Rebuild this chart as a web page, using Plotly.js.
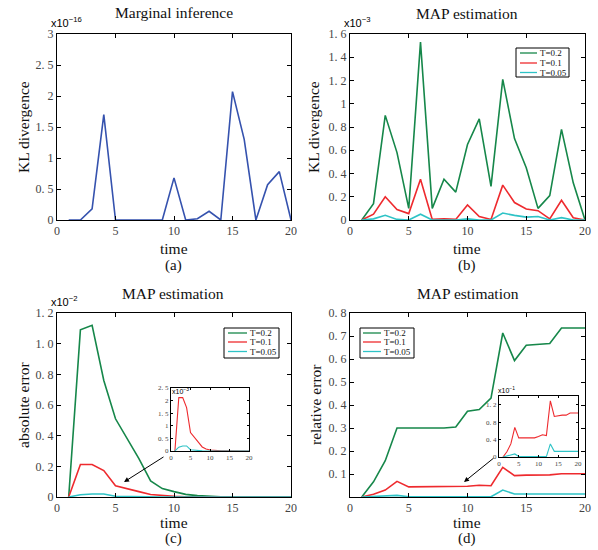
<!DOCTYPE html>
<html>
<head>
<meta charset="utf-8">
<script src="https://cdn.plot.ly/plotly-3.0.1.min.js"></script>
<style>html,body{margin:0;padding:0;background:#fff;}#chart{width:598px;height:550px;}</style>
</head>
<body>
<div id="chart"></div>
<script>
// ---------------- data ----------------
const time = [1,2,3,4,5,6,7,8,9,10,11,12,13,14,15,16,17,18,19,20];
const seriesNames = ['T=0.2','T=0.1','T=0.05'];

// (a) KL divergence, marginal inference (x1e-16)
const klMarginal = [0,0,0.18,1.7,0,0,0,0,0,0.68,0,0.02,0.14,0,2.07,1.3,0,0.57,0.78,0];

// (b) KL divergence, MAP estimation (x1e-3)
const klMapT02  = [0,0.14,0.9,0.58,0.1,1.53,0.1,0.35,0.24,0.65,0.87,0.29,1.21,0.7,0.45,0.1,0.21,0.78,0.32,0];
const klMapT01  = [0,0.05,0.2,0.09,0.055,0.35,0.005,0.01,0.005,0.13,0.03,0.005,0.3,0.15,0.095,0.08,0.01,0.17,0.02,0];
const klMapT005 = [0,0.01,0.04,0.005,0,0.05,0,0,0,0.01,0,0,0.06,0.04,0.025,0.03,0,0.02,0,0];

// (c) absolute error, MAP estimation (x1e-2)
const absErrT02  = [0,1.09,1.12,0.76,0.51,0.38,0.25,0.105,0.055,0.035,0.017,0.009,0.004,0.002,0.001,0.001,0.0005,0.0005,0.0003,0.0002];
const absErrT01  = [0,0.212,0.212,0.172,0.073,0.056,0.035,0.016,0.008,0.004,0.002,0.001,0.0005,0.0003,0.0002,0.0001,0.0001,0.0001,0.0001,0.0001];
const absErrT005 = [0,0.015,0.02,0.02,0.005,0.003,0.001,0.0005,0.0002,0.0001,0,0,0,0,0,0,0,0,0,0];

// (d) relative error, MAP estimation
const relErrT02  = [0,0.066,0.158,0.3,0.3,0.3,0.3,0.3,0.304,0.373,0.38,0.43,0.713,0.593,0.66,0.663,0.667,0.735,0.735,0.735];
const relErrT01  = [0,0.012,0.03,0.068,0.044,0.044,0.044,0.044,0.044,0.047,0.051,0.049,0.129,0.093,0.095,0.096,0.096,0.101,0.101,0.101];
const relErrT005 = [0,0.002,0.004,0.007,0.001,0.001,0.001,0.001,0.001,0.001,0.001,0.001,0.03,0.013,0.013,0.013,0.013,0.013,0.013,0.013];

// ticks
const xTickVals = [0,5,10,15,20];
const xTickText = ['0','5','10','15','20'];
const yTickValsA = [0,0.5,1,1.5,2,2.5,3];
const yTickTextA = ['0','0. 5','1','1. 5','2','2. 5','3'];
const yTickValsB = [0,0.2,0.4,0.6,0.8,1,1.2,1.4,1.6];
const yTickTextB = ['0','0. 2','0. 4','0. 6','0. 8','1','1. 2','1. 4','1. 6'];
const yTickValsC = [0,0.2,0.4,0.6,0.8,1.0,1.2];
const yTickTextC = ['0','0. 2','0. 4','0. 6','0. 8','1. 0','1. 2'];
const yTickValsD = [0.1,0.2,0.3,0.4,0.5,0.6,0.7,0.8];
const yTickTextD = ['0. 1','0. 2','0. 3','0. 4','0. 5','0. 6','0. 7','0. 8'];
const yTickValsInsetC = [0,0.05,0.1,0.15,0.2,0.25];
const yTickTextInsetC = ['0','0. 5','1','1. 5','2','2. 5'];
const yTickValsInsetD = [0,0.04,0.08,0.12];
const yTickTextInsetD = ['0','0. 4','0. 8','1. 2'];

// ---------------- styles ----------------
const colors = ['#16874a', '#ee2a2e', '#2ec3c6'];
const blue = '#3552ae';
const W = 598, H = 550;
const px = v => v / W;
const py = v => 1 - v / H;
const serif = 'Liberation Serif';

function line(x, y, color, xa, ya, width) {
  return {x: x, y: y, type: 'scatter', mode: 'lines', xaxis: xa, yaxis: ya,
          line: {color: color, width: width}, hoverinfo: 'skip', showlegend: false};
}

const traces = [
  line(time, klMarginal, blue, 'x', 'y', 1.6),
  line(time, klMapT02, colors[0], 'x2', 'y2', 1.6),
  line(time, klMapT01, colors[1], 'x2', 'y2', 1.6),
  line(time, klMapT005, colors[2], 'x2', 'y2', 1.6),
  line(time, absErrT02, colors[0], 'x3', 'y3', 1.6),
  line(time, absErrT01, colors[1], 'x3', 'y3', 1.6),
  line(time, absErrT005, colors[2], 'x3', 'y3', 1.6),
  line(time, relErrT02, colors[0], 'x4', 'y4', 1.6),
  line(time, relErrT01, colors[1], 'x4', 'y4', 1.6),
  line(time, relErrT005, colors[2], 'x4', 'y4', 1.6),
  line(time, absErrT01, colors[1], 'x5', 'y5', 1.1),
  line(time, absErrT005, colors[2], 'x5', 'y5', 1.1),
  line(time, relErrT01, colors[1], 'x6', 'y6', 1.1),
  line(time, relErrT005, colors[2], 'x6', 'y6', 1.1)
];

function axis(domain, anchor, range, tv, tt, fs, tl) {
  return {domain: domain, anchor: anchor, range: range, tickmode: 'array',
          tickvals: tv, ticktext: tt, ticks: 'inside', ticklen: tl, tickwidth: 1,
          tickcolor: '#000', showline: true, linecolor: '#000', linewidth: 1,
          mirror: 'ticks', showgrid: false, zeroline: false, fixedrange: true,
          tickfont: {family: serif, size: fs, color: '#444'}};
}

const colL = [px(57), px(291)], colR = [px(350), px(585)];
const rowT = [py(220), py(34)], rowB = [py(497), py(313)];

const layout = {
  width: W, height: H, autosize: false,
  margin: {l: 0, r: 0, t: 0, b: 0},
  paper_bgcolor: '#fff', plot_bgcolor: '#fff', showlegend: false,
  xaxis:  axis(colL, 'y', [0,20], xTickVals, xTickText, 12, 4),
  yaxis:  axis(rowT, 'x', [0,3], yTickValsA, yTickTextA, 12, 4),
  xaxis2: axis(colR, 'y2', [0,20], xTickVals, xTickText, 12, 4),
  yaxis2: axis(rowT, 'x2', [0,1.6], yTickValsB, yTickTextB, 12, 4),
  xaxis3: axis(colL, 'y3', [0,20], xTickVals, xTickText, 12, 4),
  yaxis3: axis(rowB, 'x3', [0,1.2], yTickValsC, yTickTextC, 12, 4),
  xaxis4: axis(colR, 'y4', [0,20], xTickVals, xTickText, 12, 4),
  yaxis4: axis(rowB, 'x4', [0,0.8], yTickValsD, yTickTextD, 12, 4),
  xaxis5: axis([px(171), px(249)], 'y5', [0,20], xTickVals, xTickText, 7, 2),
  yaxis5: axis([py(451), py(388)], 'x5', [0,0.25], yTickValsInsetC, yTickTextInsetC, 7, 2),
  xaxis6: axis([px(499), px(578)], 'y6', [0,20], xTickVals, xTickText, 7, 2),
  yaxis6: axis([py(457), py(396)], 'x6', [0,0.14], yTickValsInsetD, yTickTextInsetD, 7, 2),
  annotations: [],
  shapes: []
};
layout.xaxis5.ticklabelstandoff = 0; layout.yaxis5.ticklabelstandoff = 0;
layout.xaxis6.ticklabelstandoff = 0; layout.yaxis6.ticklabelstandoff = 0;

function text(t, x, y, size, opts) {
  return Object.assign({text: t, x: px(x), y: py(y), xref: 'paper', yref: 'paper',
    showarrow: false, xanchor: 'center', yanchor: 'middle',
    font: {family: serif, size: size, color: '#111', weight: 'normal'}}, opts || {});
}
const A = layout.annotations;
// titles
A.push(text('Marginal inference', 174, 12, 15.5));
A.push(text('MAP estimation', 467, 13, 15.5));
A.push(text('MAP estimation', 173, 293, 15.5));
A.push(text('MAP estimation', 468, 293, 15.5));
// x labels
A.push(text('time', 174, 248, 15.5));
A.push(text('time', 467, 248, 15.5));
A.push(text('time', 174, 522, 15.5));
A.push(text('time', 467, 522, 15.5));
// sub labels
A.push(text('(a)', 174, 265, 15));
A.push(text('(b)', 467, 265, 15));
A.push(text('(c)', 174, 538, 15));
A.push(text('(d)', 467, 538, 15));
// y labels
A.push(text('KL divergence', 23, 127, 15.5, {textangle: -90}));
A.push(text('KL divergence', 313, 127, 15.5, {textangle: -90}));
A.push(text('absolute error', 23, 405, 15.5, {textangle: -90}));
A.push(text('relative error', 315, 405, 15.5, {textangle: -90}));
// exponents
const sans = 'Liberation Sans';
function expo(t, x, y, size) {
  return text(t, x, y, size, {xanchor: 'left', yanchor: 'bottom', font: {family: sans, size: size, color: '#000', weight: 'normal'}});
}
A.push(expo('x10<sup>−16</sup>', 49, 31, 11));
A.push(expo('x10<sup>−3</sup>', 342, 31, 11));
A.push(expo('x10<sup>−2</sup>', 49, 310, 11));
A.push(expo('x10<sup>−3</sup>', 170, 397, 7));
A.push(expo('x10<sup>−1</sup>', 496, 396, 7));
// arrows
A.push({x: px(124), y: py(482), xref: 'paper', yref: 'paper', ax: 41, ay: -26,
        showarrow: true, arrowhead: 2, arrowsize: 1, arrowwidth: 1, arrowcolor: '#000', text: ''});
A.push({x: px(464), y: py(482), xref: 'paper', yref: 'paper', ax: 31, ay: -25,
        showarrow: true, arrowhead: 2, arrowsize: 1, arrowwidth: 1, arrowcolor: '#000', text: ''});

// custom compact legends
function legend(x0, y0, x1, y1, lx0, lx1, ys) {
  layout.shapes.push({type: 'rect', xref: 'paper', yref: 'paper', x0: px(x0), x1: px(x1),
    y0: py(y1), y1: py(y0), line: {color: '#000', width: 1}, fillcolor: '#fff', layer: 'above'});
  seriesNames.forEach((name, i) => {
    layout.shapes.push({type: 'line', xref: 'paper', yref: 'paper', x0: px(lx0), x1: px(lx1),
      y0: py(ys[i]), y1: py(ys[i]), line: {color: colors[i], width: 1.3}, layer: 'above'});
    A.push(text(name, lx1 + 1, ys[i], 9, {xanchor: 'left'}));
  });
}
legend(516, 48, 569, 77, 520, 537, [53, 63, 72.5]);
legend(224, 328, 279, 358, 228, 247, [333, 342, 351.5]);
legend(360, 328, 414, 358, 363, 381, [333, 342, 351.5]);

Plotly.newPlot('chart', traces, layout, {staticPlot: true, displayModeBar: false});
</script>
</body>
</html>
